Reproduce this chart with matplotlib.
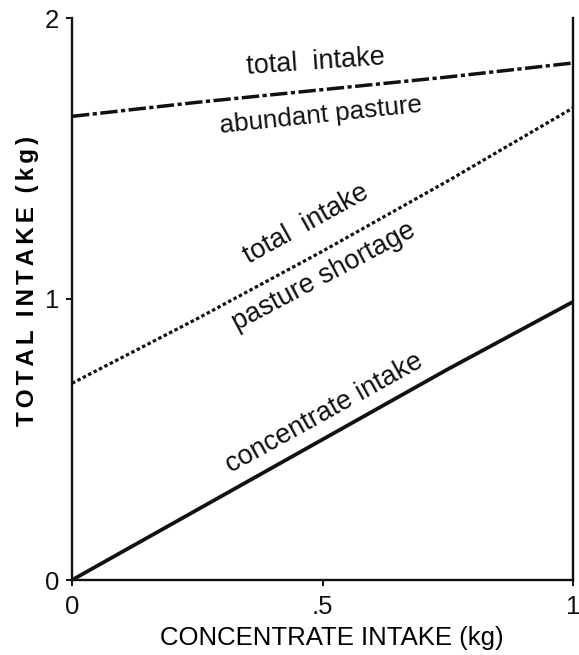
import matplotlib
matplotlib.use("Agg")
import matplotlib.pyplot as plt

plt.rcParams["font.family"] = ["Liberation Sans", "DejaVu Sans"]

# concentrate intake (kg) at which the curves are evaluated
conc = [0.0, 0.25, 0.5, 0.75, 1.0]
# total intake with abundant pasture
total_abundant = [1.65, 1.70, 1.745, 1.79, 1.84]
# total intake under pasture shortage
total_shortage = [0.70, 0.93, 1.17, 1.42, 1.68]
# concentrate intake itself
conc_intake = [0.0, 0.25, 0.5, 0.75, 0.99]

x_ticks = [0, 0.5, 1]
x_ticklabels = ["0", ".5", "1"]
y_ticks = [0, 1, 2]
y_ticklabels = ["0", "1", "2"]

fig = plt.figure(figsize=(5.79, 6.55), dpi=100)
ax = fig.add_axes([72 / 579, 75 / 655, 501 / 579, 562 / 655])

ax.plot(conc, total_abundant, color="#111111", lw=2.5,
        linestyle=(0, (5, 1.0, 1.2, 1.0)), dash_capstyle="butt")
ax.plot(conc, total_shortage, color="#111111", lw=2.3,
        linestyle=(0, (1.1, 0.8)), dash_capstyle="butt")
ax.plot(conc, conc_intake, color="#111111", lw=2.7, solid_capstyle="butt")

ax.set_xlim(0, 1)
ax.set_ylim(0, 2)
ax.spines["top"].set_visible(False)
for s in ("left", "right", "bottom"):
    ax.spines[s].set_linewidth(1.7)
    ax.spines[s].set_color("#111111")

ax.set_xticks(x_ticks)
ax.set_xticklabels(x_ticklabels)
ax.set_yticks(y_ticks)
ax.set_yticklabels(y_ticklabels)
ax.tick_params(axis="both", direction="out", length=4, width=1.4,
               labelsize=18.5, colors="#111111")
ax.tick_params(axis="x", pad=7)
ax.tick_params(axis="y", pad=5)

ax.set_xlabel("CONCENTRATE INTAKE (kg)", fontsize=18.5)
ax.xaxis.set_label_coords(0.519, -0.082)

# letter-spaced vertical axis title
gap = "\u200a\u200a"
ylab = gap.join("TOTAL") + "  " + gap.join("INTAKE") + "  " + \
    gap.join("(kg)")
ax.set_ylabel(ylab, fontsize=17.5, fontweight="bold")
ax.yaxis.set_label_coords(-0.066, 0.532)

txt = dict(color="#111111", ha="center", va="center",
           rotation_mode="anchor")
ax.text(0.487, 1.843, "total  intake", rotation=4, fontsize=19.5, **txt)
ax.text(0.497, 1.652, "abundant pasture", rotation=6, fontsize=18.8, **txt)
ax.text(0.467, 1.265, "total  intake", rotation=29, fontsize=19.5, **txt)
ax.text(0.503, 1.08, "pasture shortage", rotation=28, fontsize=19.5, **txt)
ax.text(0.503, 0.595, "concentrate intake", rotation=29, fontsize=19.5, **txt)

fig.savefig("out.png", dpi=100)
